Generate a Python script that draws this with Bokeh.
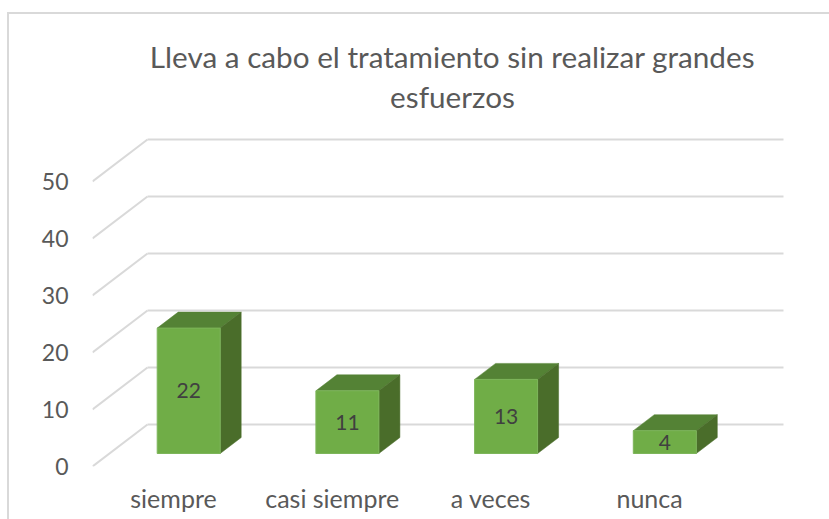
from bokeh.plotting import figure
from bokeh.embed import file_html
from bokeh.resources import INLINE
from bokeh.models import Title, Range1d, FixedTicker, ColumnDataSource
from bokeh.core.properties import value

categories = ["siempre", "casi siempre", "a veces", "nunca"]
values = [22, 11, 13, 4]
y_ticks = [0, 10, 20, 30, 40, 50]
title_lines = ["Lleva a cabo el tratamiento sin realizar grandes", "esfuerzos"]

FONT = "Lato"
TEXT = "#595959"
GRID = "#D9D9D9"

# pixel geometry of the plotting frame (page pixels)
W, H = 829, 519
ML, MT = 7, 12          # offset of the chart box, whose top and left edges carry the border
FL, FR, FT, FB = 92, 812, 117, 466
PX_PER_UNIT = 5.7
STEP = 158.7
X0_PX = 173

x_lo = (FL - X0_PX) / STEP
x_hi = (FR - X0_PX) / STEP
y_hi = (FB - FT) / PX_PER_UNIT

p = figure(width=W - ML, height=H - MT, output_backend="svg", toolbar_location=None,
           frame_width=FR - FL, frame_height=FB - FT,
           x_range=Range1d(x_lo, x_hi), y_range=Range1d(0, y_hi),
           min_border_left=FL - ML, min_border_right=W - FR,
           min_border_top=FT - MT, min_border_bottom=H - FB,
           margin=(MT, 0, 0, ML),
           styles={"box-shadow": f"inset 2px 2px 0 0 {GRID}"},
           border_fill_color=None, background_fill_color=None,
           outline_line_color=None)
p.grid.visible = False

p.yaxis.ticker = FixedTicker(ticks=y_ticks)
p.yaxis.axis_line_color = None
p.yaxis.major_tick_line_color = None
p.yaxis.minor_tick_line_color = None
p.yaxis.major_label_standoff = 18
p.yaxis.major_label_text_font = FONT
p.yaxis.major_label_text_font_size = "23px"
p.yaxis.major_label_text_color = TEXT

p.xaxis.ticker = FixedTicker(ticks=list(range(len(categories))))
p.xaxis.major_label_overrides = {i: c for i, c in enumerate(categories)}
p.xaxis.axis_line_color = None
p.xaxis.major_tick_line_color = None
p.xaxis.minor_tick_line_color = None
p.xaxis.major_label_standoff = 10
p.xaxis.major_label_text_font = FONT
p.xaxis.major_label_text_font_size = "25px"
p.xaxis.major_label_text_color = TEXT

# 3D wall depth and floor
wall_dx = 55 / STEP
wall_dy = 42 / PX_PER_UNIT
back_right = (783 - X0_PX) / STEP
p.segment(x0=[x_lo] * len(y_ticks), y0=y_ticks,
          x1=[x_lo + wall_dx] * len(y_ticks), y1=[t + wall_dy for t in y_ticks],
          line_color=GRID, line_width=2)
p.segment(x0=[x_lo + wall_dx] * len(y_ticks), y0=[t + wall_dy for t in y_ticks],
          x1=[back_right] * len(y_ticks), y1=[t + wall_dy for t in y_ticks],
          line_color=GRID, line_width=2)

# bars
base = 13 / PX_PER_UNIT
bar_w = 63 / STEP
bar_dx = 21 / STEP
bar_dy = 16 / PX_PER_UNIT
off = 15.2 / STEP
xs_l = [i + off - bar_w / 2 for i in range(len(values))]
xs_r = [i + off + bar_w / 2 for i in range(len(values))]
tops = [base + v for v in values]

p.patches(xs=[[l, r, r + bar_dx, l + bar_dx] for l, r in zip(xs_l, xs_r)],
          ys=[[t, t, t + bar_dy, t + bar_dy] for t in tops],
          fill_color="#548235", line_color="#548235", line_width=0.5)
p.patches(xs=[[r, r + bar_dx, r + bar_dx, r] for r in xs_r],
          ys=[[base, base + bar_dy, t + bar_dy, t] for t in tops],
          fill_color="#4A6D2A", line_color="#4A6D2A", line_width=0.5)
p.vbar(x=[i + off for i in range(len(values))], width=bar_w, bottom=base, top=tops,
       fill_color="#70AD47", line_color="#7DB55A", line_width=1)

src = ColumnDataSource(dict(x=[i + off for i in range(len(values))],
                            y=[base + v / 2 for v in values],
                            t=[str(v) for v in values]))
p.text(x="x", y="y", text="t", source=src, text_align="center", text_baseline="middle",
       text_font=value(FONT), text_font_size="21px", text_color="#404040")

# title: two stacked lines, nearest the frame first
for line, standoff in zip(reversed(title_lines), (7, 0)):
    p.add_layout(Title(text=line, align="center", text_font=FONT, text_font_size="29.7px",
                       text_font_style="normal", text_color=TEXT, standoff=standoff), "above")

open("out.html", "w").write(file_html(p, INLINE))
